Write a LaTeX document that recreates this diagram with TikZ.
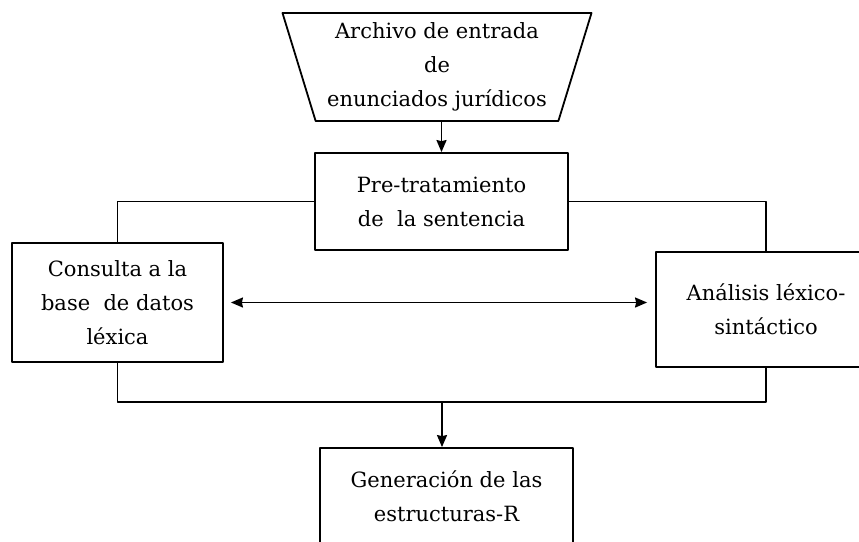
\documentclass[tikz,border=0pt]{standalone}
\usepackage{fontspec}
\setmainfont{DejaVu Serif}
\usetikzlibrary{shapes.geometric,arrows.meta}
\begin{document}
\begin{tikzpicture}[x=1pt, y=-1pt, font=\fontsize{21}{34}\selectfont, line width=1.8pt, line join=round, >={Stealth[length=12pt,width=10pt,inset=1pt]},
	box/.style={draw, rectangle, align=center, inner sep=0pt}]
	\useasboundingbox (0,0) rectangle (859,541);
	\clip (0,0) rectangle (859,541);
	\node[draw, trapezium, shape border rotate=180, trapezium stretches body, trapezium angle=69.5, minimum width=309pt, minimum height=108pt, align=center, inner sep=0pt] (arch) at (437,67) {Archivo de entrada\\de\\enunciados jurídicos};
	\node[box, minimum width=253pt, minimum height=97pt] (pre) at (441.5,201.5) {Pre-tratamiento\\de\ \ la sentencia};
	\node[box, minimum width=211pt, minimum height=119pt] (cons) at (117.5,302.5) {Consulta a la\\base\ \ de datos\\léxica};
	\node[box, minimum width=220pt, minimum height=115pt] (ana) at (766,309.5) {Análisis léxico-\\sintáctico};
	\node[box, minimum width=253pt, minimum height=97pt] (gen) at (446.5,496.5) {Generación de las\\estructuras-R};
	\coordinate (join) at (442,402);
	\draw[->] (pre.north |- arch.south) -- (pre.north);
	\draw (pre.west) -| (cons.north);
	\draw (pre.east) -| (ana.north);
	\draw (cons.south) |- (join) -| (ana.south);
	\draw[->] (join) -- (join |- gen.north);
	\draw[<->, shorten <=7pt, shorten >=8pt] (cons.east) -- (cons.east -| ana.west);
\end{tikzpicture}
\end{document}
